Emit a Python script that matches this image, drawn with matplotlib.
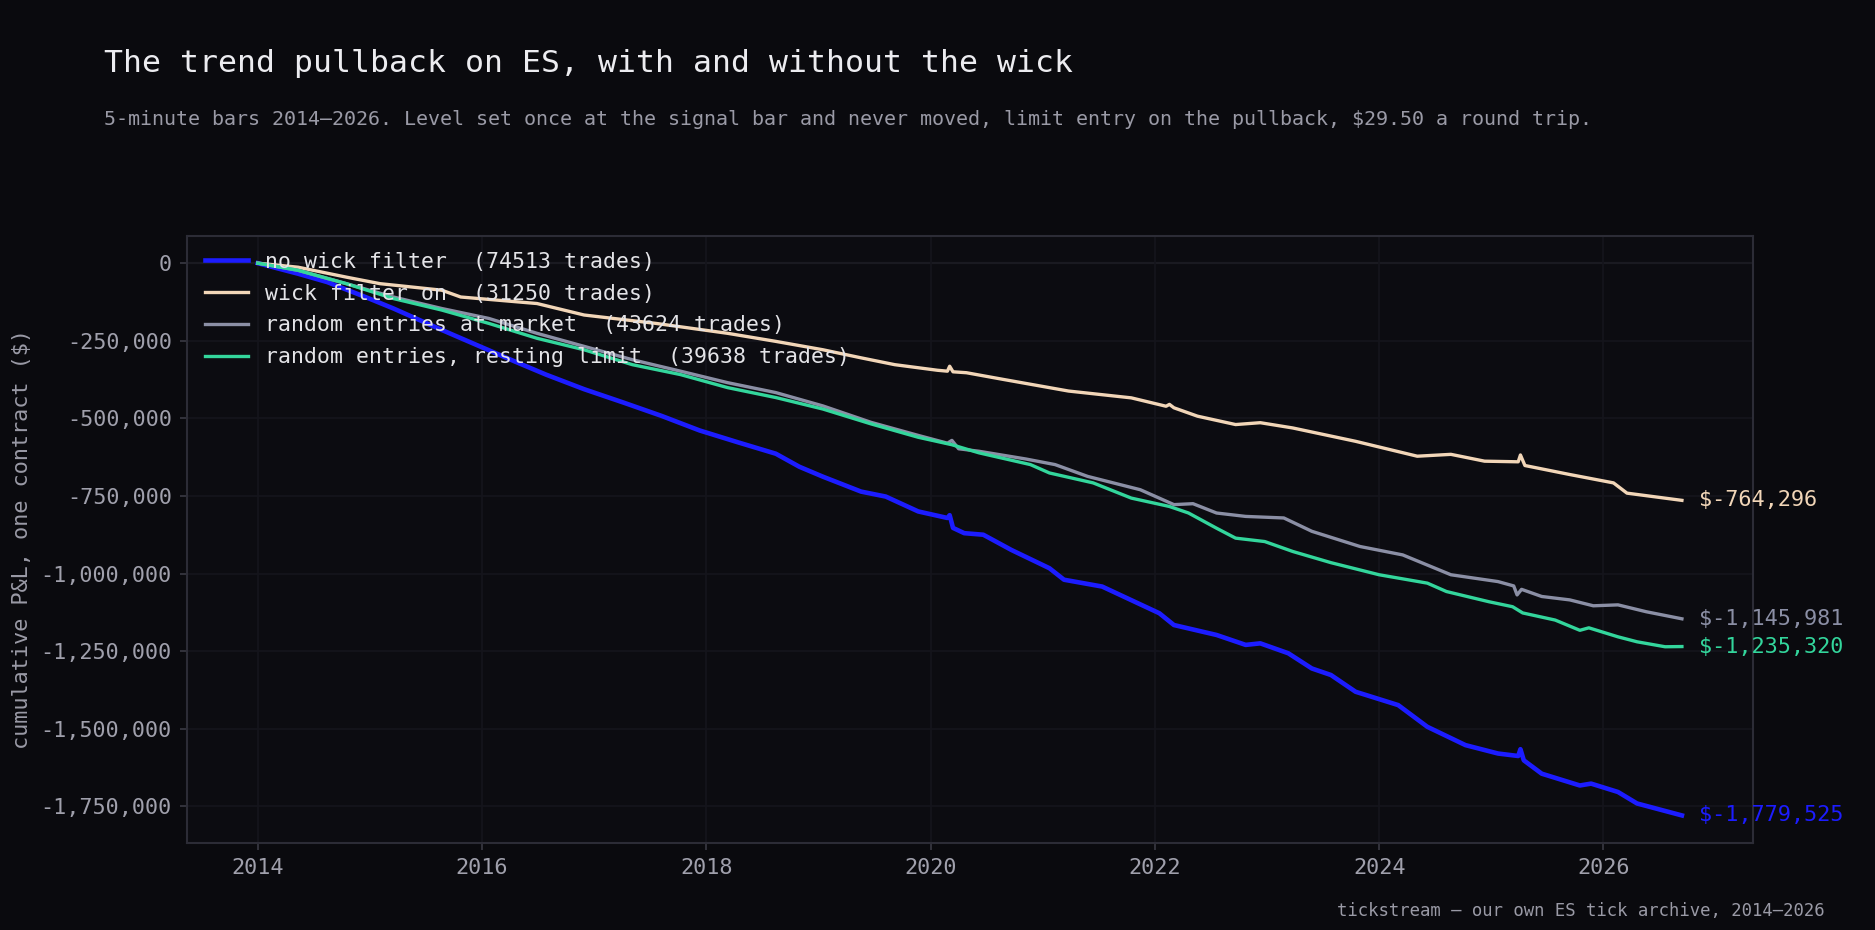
import matplotlib
matplotlib.use("Agg")
import matplotlib.pyplot as plt
from matplotlib.ticker import FuncFormatter, MultipleLocator

# decimal years and cumulative P&L ($)
blue_x = [2014.0, 2014.36, 2014.62, 2014.96, 2015.21, 2015.64, 2015.98, 2016.32, 2016.57, 2016.91,
          2017.26, 2017.6, 2017.94, 2018.28, 2018.62, 2018.83, 2019.04, 2019.38, 2019.6, 2019.89,
          2020.15, 2020.17, 2020.2, 2020.3, 2020.47, 2020.72, 2021.06, 2021.19, 2021.53, 2022.04,
          2022.17, 2022.55, 2022.81, 2022.94, 2023.19, 2023.4, 2023.57, 2023.79, 2024.17, 2024.43,
          2024.77, 2025.06, 2025.24, 2025.26, 2025.29, 2025.45, 2025.79, 2025.89, 2026.13, 2026.3,
          2026.7]
blue_y = [0, -34000, -61000, -109000, -146000, -215000, -268000, -321000, -359000, -406000,
          -449000, -492000, -539000, -577000, -614000, -656000, -688000, -736000, -752000, -800000,
          -821000, -812000, -853000, -870000, -875000, -924000, -983000, -1020000, -1042000, -1128000,
          -1166000, -1198000, -1230000, -1225000, -1257000, -1306000, -1327000, -1381000, -1424000, -1494000,
          -1553000, -1580000, -1588000, -1566000, -1602000, -1645000, -1683000, -1677000, -1704000, -1741000,
          -1779525]

peach_x = [2014.0, 2014.36, 2014.79, 2015.09, 2015.64, 2015.81, 2016.49, 2016.91, 2017.55, 2018.19,
           2018.62, 2019.04, 2019.38, 2019.68, 2020.06, 2020.15, 2020.17, 2020.2, 2020.32, 2020.64,
           2021.23, 2021.79, 2022.1, 2022.13, 2022.17, 2022.38, 2022.72, 2022.94, 2023.23, 2023.79,
           2024.34, 2024.64, 2024.94, 2025.24, 2025.26, 2025.3, 2025.7, 2026.09, 2026.21, 2026.7]
peach_y = [0, -13000, -45000, -66000, -87000, -109000, -130000, -167000, -194000, -226000,
           -252000, -279000, -305000, -327000, -345000, -348000, -332000, -350000, -353000, -374000,
           -412000, -434000, -461000, -455000, -466000, -493000, -520000, -514000, -531000, -574000,
           -622000, -616000, -638000, -640000, -618000, -652000, -681000, -708000, -741000, -764296]

gray_x = [2014.0, 2014.36, 2014.79, 2015.21, 2015.64, 2016.06, 2016.49, 2016.91, 2017.34, 2017.77,
          2018.19, 2018.62, 2019.04, 2019.47, 2019.89, 2020.15, 2020.19, 2020.25, 2020.43, 2020.85,
          2021.11, 2021.4, 2021.87, 2022.17, 2022.34, 2022.55, 2022.81, 2023.15, 2023.4, 2023.83,
          2024.21, 2024.64, 2025.06, 2025.2, 2025.23, 2025.27, 2025.45, 2025.7, 2025.91, 2026.13,
          2026.38, 2026.7]
gray_y = [0, -23000, -66000, -109000, -146000, -178000, -226000, -268000, -311000, -348000,
          -385000, -417000, -460000, -513000, -555000, -580000, -571000, -598000, -606000, -631000,
          -649000, -687000, -730000, -778000, -775000, -805000, -816000, -821000, -864000, -913000,
          -940000, -1004000, -1026000, -1040000, -1069000, -1051000, -1074000, -1085000, -1104000, -1101000,
          -1123000, -1145981]

green_x = [2014.0, 2014.36, 2014.79, 2015.21, 2015.64, 2016.06, 2016.49, 2016.91, 2017.34, 2017.77,
           2018.19, 2018.62, 2019.04, 2019.47, 2019.89, 2020.19, 2020.43, 2020.89, 2021.06, 2021.45,
           2021.79, 2022.13, 2022.3, 2022.55, 2022.72, 2022.98, 2023.23, 2023.57, 2024.0, 2024.43,
           2024.6, 2024.98, 2025.19, 2025.28, 2025.57, 2025.79, 2025.87, 2026.13, 2026.3, 2026.55,
           2026.7]
green_y = [0, -23000, -66000, -114000, -151000, -194000, -242000, -279000, -327000, -359000,
           -401000, -433000, -470000, -518000, -561000, -585000, -611000, -649000, -676000, -708000,
           -757000, -784000, -805000, -854000, -886000, -897000, -929000, -965000, -1004000, -1031000,
           -1058000, -1091000, -1107000, -1127000, -1150000, -1183000, -1175000, -1204000, -1220000, -1236000,
           -1235320]

labels = ["no wick filter  (74513 trades)",
          "wick filter on  (31250 trades)",
          "random entries at market  (43624 trades)",
          "random entries, resting limit  (39638 trades)"]
colors = ["#1c1cff", "#f2d6b8", "#8b8fa5", "#33d69c"]
widths = [2.2, 1.6, 1.6, 1.6]

BG = "#0a0a0e"
MONO = "DejaVu Sans Mono"
plt.rcParams["font.family"] = MONO

fig = plt.figure(figsize=(12.5, 6.2), dpi=150, facecolor=BG)
ax = fig.add_axes([0.0995, 0.0935, 0.8355, 0.6532])
ax.set_facecolor("#0c0c11")

ax.axhline(0, color="#34343f", lw=1.0, zorder=1)
series = [(blue_x, blue_y), (peach_x, peach_y), (gray_x, gray_y), (green_x, green_y)]
for (xs, ys), lab, c, w in zip(series, labels, colors, widths):
    ax.plot(xs, ys, color=c, lw=w, label=lab, zorder=2)
    ax.annotate(f"${ys[-1]:,.0f}", xy=(xs[-1], ys[-1]), xytext=(8, 0),
                textcoords="offset points", va="center", ha="left",
                color=c, fontsize=10.5)

ax.xaxis.set_major_locator(MultipleLocator(2))
ax.xaxis.set_major_formatter(FuncFormatter(lambda v, p: f"{int(round(v))}"))
ax.yaxis.set_major_locator(MultipleLocator(250000))
ax.yaxis.set_major_formatter(FuncFormatter(lambda v, p: f"{v:,.0f}"))

ax.grid(True, color="#15151c", lw=0.8, zorder=0)
for s in ax.spines.values():
    s.set_color("#2c2c36")
    s.set_linewidth(1.0)
ax.tick_params(colors="#3a3a44", labelcolor="#a0a0ac", labelsize=10.5)
ax.set_ylabel("cumulative P&L, one contract ($)", color="#9a9aa6", fontsize=10.5)

leg = ax.legend(loc="upper left", frameon=False, fontsize=10.35, labelspacing=0.55,
                borderaxespad=0.35, bbox_to_anchor=(0.0015, 1.0))
for t in leg.get_texts():
    t.set_color("#e4e4e8")

fig.text(0.0555, 0.932, "The trend pullback on ES, with and without the wick",
         color="#ececf0", fontsize=15.1, va="center", ha="left")
fig.text(0.0555, 0.871,
         "5-minute bars 2014\u20132026. Level set once at the signal bar and never moved, "
         "limit entry on the pullback, $29.50 a round trip.",
         color="#9a9aa6", fontsize=9.6, va="center", ha="left")
fig.text(0.973, 0.02, "tickstream \u2014 our own ES tick archive, 2014\u20132026",
         color="#9a9aa6", fontsize=8.3, va="center", ha="right")

fig.savefig("out.png", dpi=150, facecolor=BG)
